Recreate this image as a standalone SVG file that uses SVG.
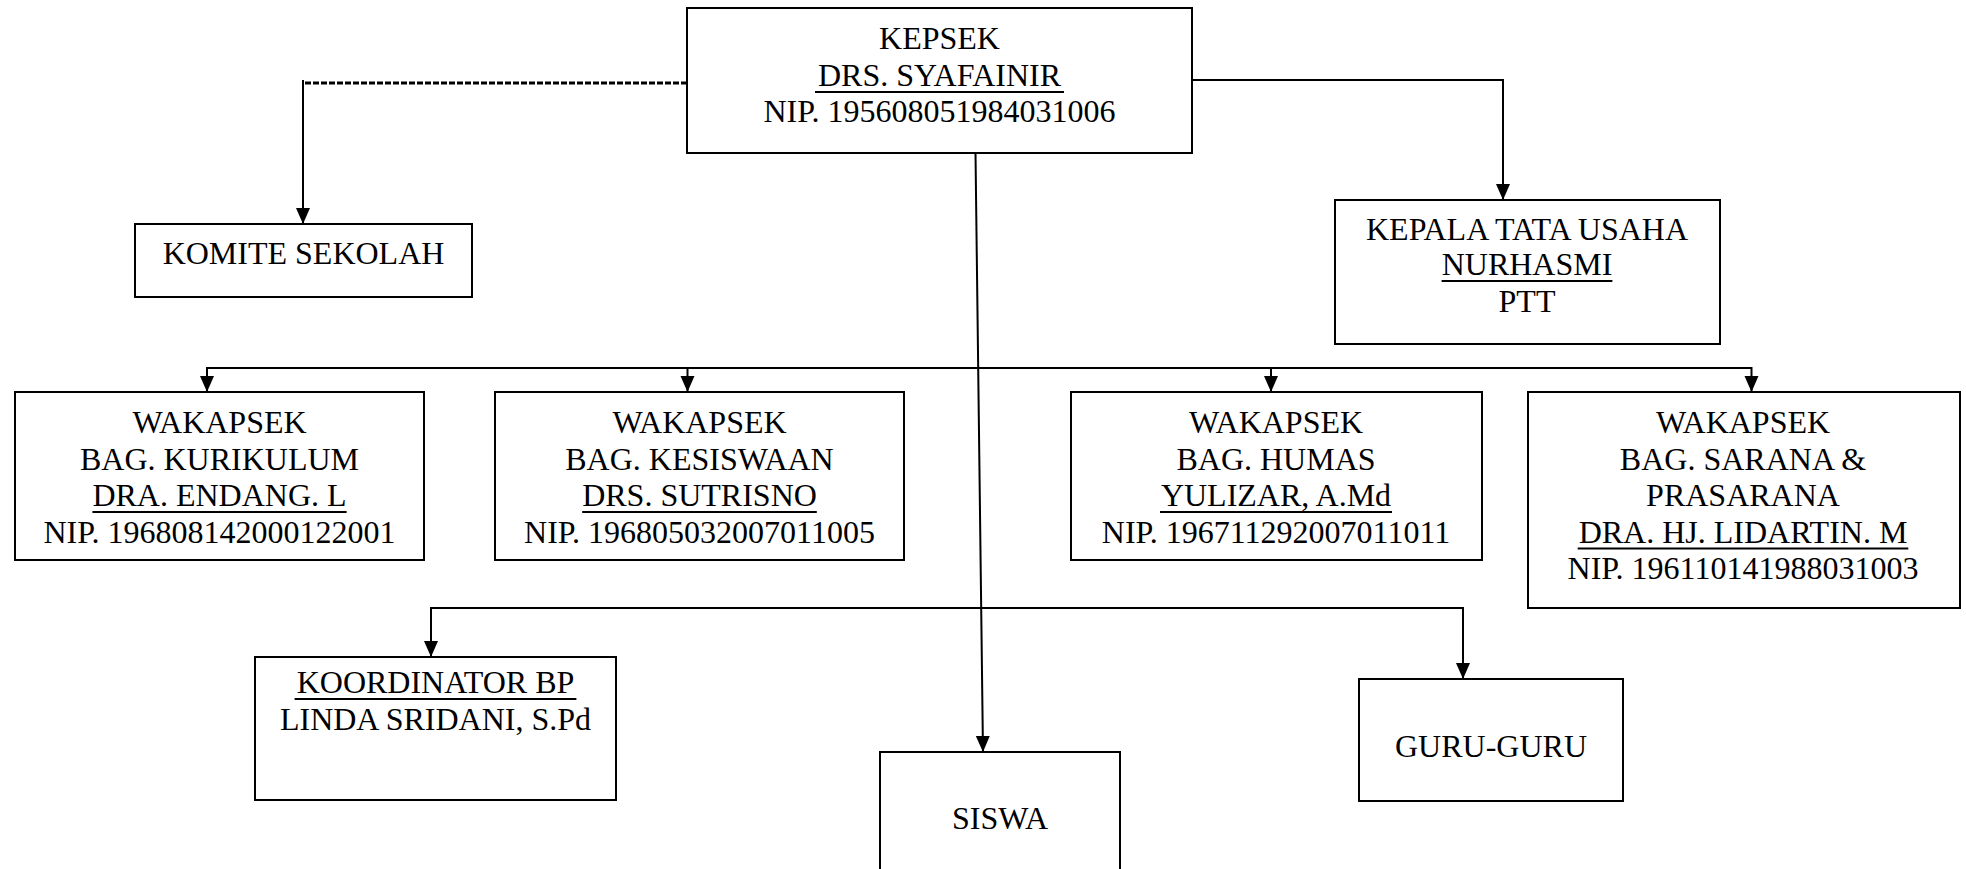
<svg xmlns="http://www.w3.org/2000/svg" width="1966" height="869" viewBox="0 0 1966 869">
<style>
.box{fill:#fff;stroke:#000;stroke-width:2}
.t{font-family:"Liberation Serif","Times New Roman",serif;font-size:32px;fill:#000;text-anchor:middle}
.ul{stroke:#000;stroke-width:2.2}
.c{fill:none;stroke:#000;stroke-width:2}
.arr{fill:none;stroke:#000;stroke-width:2;marker-end:url(#ah)}
.dash{fill:none;stroke:#000;stroke-width:3;stroke-dasharray:6 2}
</style>
<defs>
<marker id="ah" viewBox="0 0 16 16" refX="16" refY="8" markerWidth="16" markerHeight="16" markerUnits="userSpaceOnUse" orient="auto">
<path d="M0,1 L16,8 L0,15 z" fill="#000"/>
</marker>
</defs>
<rect width="1966" height="869" fill="#fff"/>
<g id="connectors">
<path class="dash" d="M687,83 H304"/>
<path class="arr" d="M303,80 V224"/>
<path class="arr" d="M1192,80 H1503 V200"/>
<path class="arr" d="M975.5,153 L983,752"/>
<path class="c" d="M207,368 H1752"/>
<path class="arr" d="M207,367 V392"/>
<path class="arr" d="M687.5,368 V392"/>
<path class="arr" d="M1271,368 V392"/>
<path class="arr" d="M1751.5,367 V392"/>
<path class="arr" d="M431,607 V657"/>
<path class="c" d="M431,608 H1463"/>
<path class="arr" d="M1463,607 V679"/>
</g>
<g id="kepsek">
<rect class="box" x="687" y="8" width="505" height="145"/>
<text class="t" x="939.5" y="49">KEPSEK</text>
<text class="t" x="939.5" y="85.5">DRS. SYAFAINIR</text>
<line class="ul" x1="815" y1="92" x2="1064" y2="92"/>
<text class="t" x="939.5" y="122">NIP. 195608051984031006</text>
</g>
<g id="komite">
<rect class="box" x="135" y="224" width="337" height="73"/>
<text class="t" x="303.5" y="264">KOMITE SEKOLAH</text>
</g>
<g id="kepala-tu">
<rect class="box" x="1335" y="200" width="385" height="144"/>
<text class="t" x="1527" y="240">KEPALA TATA USAHA</text>
<text class="t" x="1527" y="275">NURHASMI</text>
<line class="ul" x1="1441.6" y1="281" x2="1612.4" y2="281"/>
<text class="t" x="1527" y="312">PTT</text>
</g>
<g id="wakapsek-kurikulum">
<rect class="box" x="15" y="392" width="409" height="168"/>
<text class="t" x="219.5" y="433">WAKAPSEK</text>
<text class="t" x="219.5" y="469.5">BAG. KURIKULUM</text>
<text class="t" x="219.5" y="506">DRA. ENDANG. L</text>
<line class="ul" x1="92.4" y1="512" x2="346.6" y2="512"/>
<text class="t" x="219.5" y="542.5">NIP. 196808142000122001</text>
</g>
<g id="wakapsek-kesiswaan">
<rect class="box" x="495" y="392" width="409" height="168"/>
<text class="t" x="699.5" y="433">WAKAPSEK</text>
<text class="t" x="699.5" y="469.5">BAG. KESISWAAN</text>
<text class="t" x="699.5" y="506">DRS. SUTRISNO</text>
<line class="ul" x1="582.2" y1="512" x2="816.8" y2="512"/>
<text class="t" x="699.5" y="542.5">NIP. 196805032007011005</text>
</g>
<g id="wakapsek-humas">
<rect class="box" x="1071" y="392" width="411" height="168"/>
<text class="t" x="1276" y="433">WAKAPSEK</text>
<text class="t" x="1276" y="469.5">BAG. HUMAS</text>
<text class="t" x="1276" y="506">YULIZAR, A.Md</text>
<line class="ul" x1="1160" y1="512" x2="1392" y2="512"/>
<text class="t" x="1276" y="542.5">NIP. 196711292007011011</text>
</g>
<g id="wakapsek-sarana">
<rect class="box" x="1528" y="392" width="432" height="216"/>
<text class="t" x="1743" y="433">WAKAPSEK</text>
<text class="t" x="1743" y="469.5">BAG. SARANA &amp;</text>
<text class="t" x="1743" y="506">PRASARANA</text>
<text class="t" x="1743" y="542.5">DRA. HJ. LIDARTIN. M</text>
<line class="ul" x1="1577.7" y1="548.5" x2="1908.3" y2="548.5"/>
<text class="t" x="1743" y="579">NIP. 196110141988031003</text>
</g>
<g id="koordinator-bp">
<rect class="box" x="255" y="657" width="361" height="143"/>
<text class="t" x="435.5" y="693">KOORDINATOR BP</text>
<line class="ul" x1="294.6" y1="699" x2="576.4" y2="699"/>
<text class="t" x="435.5" y="730">LINDA SRIDANI, S.Pd</text>
</g>
<g id="siswa">
<rect class="box" x="880" y="752" width="240" height="140"/>
<text class="t" x="1000" y="829">SISWA</text>
</g>
<g id="guru">
<rect class="box" x="1359" y="679" width="264" height="122"/>
<text class="t" x="1491" y="757">GURU-GURU</text>
</g>
</svg>
